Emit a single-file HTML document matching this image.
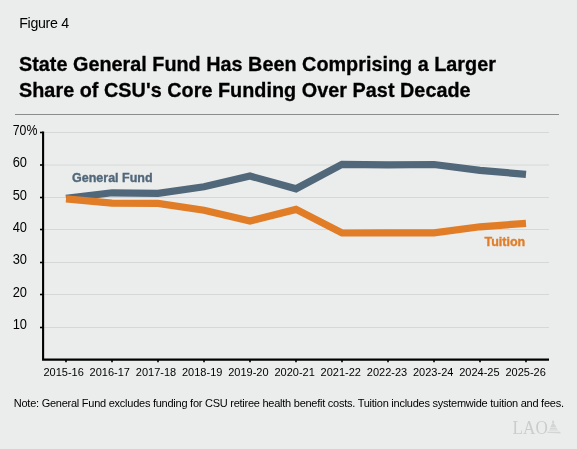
<!DOCTYPE html>
<html><head><meta charset="utf-8">
<style>
html,body{margin:0;padding:0;}
body{will-change:transform;width:577px;height:449px;background:#ebedec;position:relative;overflow:hidden;font-family:"Liberation Sans",sans-serif;color:#000;}
.a{position:absolute;white-space:nowrap;line-height:1;}
#fig{left:19.2px;top:15.5px;font-size:14.2px;letter-spacing:-0.3px;}
#t1{left:19px;top:54.5px;font-size:19.8px;font-weight:bold;letter-spacing:0.02px;-webkit-text-stroke:0.3px #000;}
#t2{left:19px;top:80.5px;font-size:19.8px;font-weight:bold;letter-spacing:0.04px;-webkit-text-stroke:0.3px #000;}
#rule{position:absolute;left:15px;top:113.8px;width:544.3px;height:1.3px;background:#8a8b8b;}
#note{left:13.8px;top:397.5px;font-size:11px;letter-spacing:-0.25px;}
svg{position:absolute;left:0;top:0;}
</style></head><body>
<div class="a" id="fig">Figure 4</div>
<div class="a" id="t1">State General Fund Has Been Comprising a Larger</div>
<div class="a" id="t2">Share of CSU's Core Funding Over Past Decade</div>
<div id="rule"></div>
<svg width="577" height="449" viewBox="0 0 577 449">
  <g stroke="#d6d8d8" stroke-width="1"><line x1="44" y1="327.5" x2="549" y2="327.5"/><line x1="44" y1="294.5" x2="549" y2="294.5"/><line x1="44" y1="262.5" x2="549" y2="262.5"/><line x1="44" y1="229.5" x2="549" y2="229.5"/><line x1="44" y1="197.5" x2="549" y2="197.5"/><line x1="44" y1="165.0" x2="549" y2="165.0"/><line x1="44" y1="132.5" x2="549" y2="132.5"/></g>
  <polyline points="43.1,131.4 43.1,359.6 549,359.6" stroke="#000" stroke-width="2.1" fill="none"/>
  <g stroke="#000" stroke-width="1.6"><line x1="40" y1="327.5" x2="43" y2="327.5"/><line x1="40" y1="294.5" x2="43" y2="294.5"/><line x1="40" y1="262.5" x2="43" y2="262.5"/><line x1="40" y1="229.5" x2="43" y2="229.5"/><line x1="40" y1="197.5" x2="43" y2="197.5"/><line x1="40" y1="165.0" x2="43" y2="165.0"/><line x1="40" y1="132.5" x2="43" y2="132.5"/><line x1="66" y1="360" x2="66" y2="362.3"/><line x1="112" y1="360" x2="112" y2="362.3"/><line x1="158" y1="360" x2="158" y2="362.3"/><line x1="204" y1="360" x2="204" y2="362.3"/><line x1="250" y1="360" x2="250" y2="362.3"/><line x1="296" y1="360" x2="296" y2="362.3"/><line x1="342" y1="360" x2="342" y2="362.3"/><line x1="388" y1="360" x2="388" y2="362.3"/><line x1="434" y1="360" x2="434" y2="362.3"/><line x1="480" y1="360" x2="480" y2="362.3"/><line x1="526" y1="360" x2="526" y2="362.3"/></g>
  <g font-family="Liberation Sans" font-size="14.3" fill="#000" transform="translate(12.7,0) scale(0.9,1) translate(-12.7,0)"><text x="12.7" y="329.20">10</text><text x="12.7" y="296.80">20</text><text x="12.7" y="264.40">30</text><text x="12.7" y="232.00">40</text><text x="12.7" y="199.60">50</text><text x="12.7" y="167.20">60</text><text x="12.7" y="134.80" textLength="27.4" lengthAdjust="spacingAndGlyphs">70%</text></g>
  <g font-family="Liberation Sans" font-size="11" fill="#000" text-anchor="middle"><text x="63.60" y="376">2015-16</text><text x="109.80" y="376">2016-17</text><text x="156.00" y="376">2017-18</text><text x="202.20" y="376">2018-19</text><text x="248.40" y="376">2019-20</text><text x="294.60" y="376">2020-21</text><text x="340.80" y="376">2021-22</text><text x="387.00" y="376">2022-23</text><text x="433.20" y="376">2023-24</text><text x="479.40" y="376">2024-25</text><text x="525.60" y="376">2025-26</text></g>
  <polyline fill="none" stroke="#51677a" stroke-width="7.2" stroke-linejoin="miter" stroke-linecap="butt" points="66,198.4 112,192.8 158,193.3 204,186.8 250,176.0 296,188.8 342,164.3 388,164.8 434,164.5 480,170.4 526,174.3"/>
  <polyline fill="none" stroke="#e17d27" stroke-width="7.2" stroke-linejoin="miter" stroke-linecap="butt" points="66,198.9 112,203.1 158,203.4 204,210.2 250,221.0 296,209.4 342,233.0 388,232.8 434,232.8 480,226.8 526,223.4"/>
  <text x="72" y="181.8" font-family="Liberation Sans" font-weight="bold" font-size="12.5" fill="#51677a" stroke="#51677a" stroke-width="0.35">General Fund</text>
  <text x="484.5" y="245.8" font-family="Liberation Sans" font-weight="bold" font-size="12.5" fill="#e17d27" stroke="#e17d27" stroke-width="0.35">Tuition</text>
  <g fill="#cbcccc"><text x="0" y="0" font-family="Liberation Serif" font-size="18.6" transform="translate(512.6,433.6) scale(0.92,1)">LAO</text>
  <path fill="#d3d4d4" d="M552,423.6 L552.2,420.8 Q553.1,420 554,420.8 L554.3,423.6 Z"/>
  <path fill="#d3d4d4" d="M548.6,430.6 C550.4,429.8 550.2,424 553.2,423.4 C556.2,424 556.4,429.8 559,430.6 Z"/>
  <path fill="#d3d4d4" d="M547.3,431.7 L559.6,431.7 Q560.6,432.3 561,433.4 L547,432.7 Z"/>
  <g stroke="#ebedec" stroke-width="0.6"><line x1="549" y1="427.4" x2="558" y2="427.4"/><line x1="548" y1="429.3" x2="559" y2="429.3"/></g>
</svg>
<div class="a" id="note">Note: General Fund excludes funding for CSU retiree health benefit costs. Tuition includes systemwide tuition and fees.</div>
</body></html>
